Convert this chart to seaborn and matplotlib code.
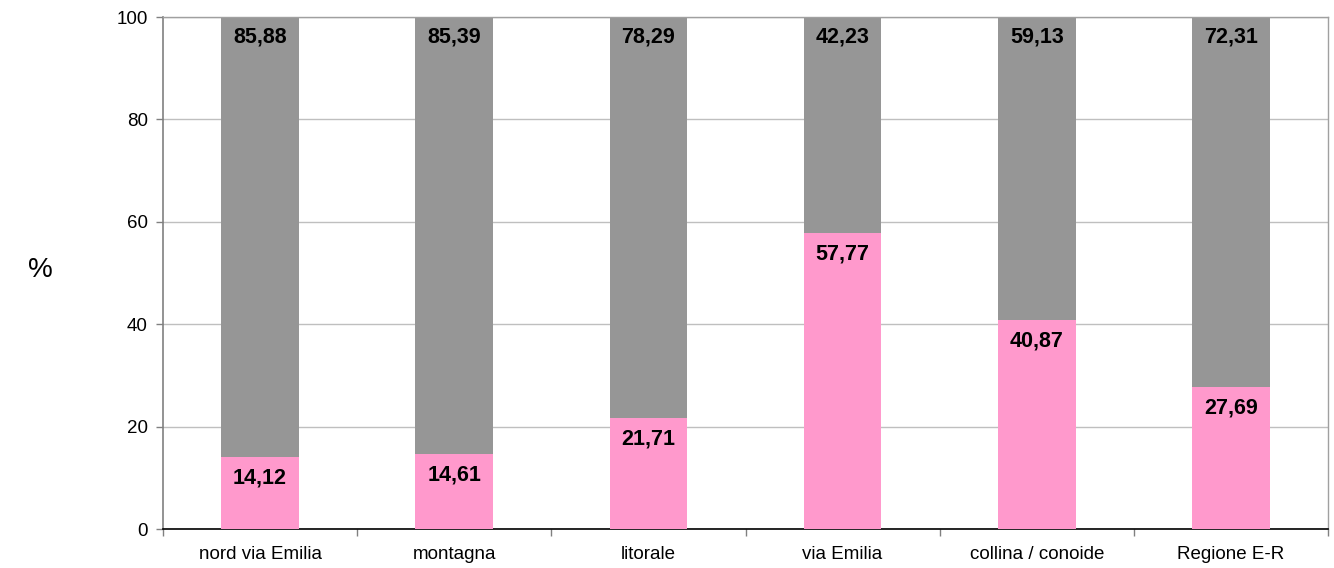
import matplotlib
matplotlib.use("Agg")
import matplotlib.pyplot as plt
import seaborn as sns
import pandas as pd
import numpy as np

categories = ["nord via Emilia", "montagna", "litorale", "via Emilia", "collina / conoide", "Regione E-R"]
pink_values = [14.12, 14.61, 21.71, 57.77, 40.87, 27.69]
gray_values = [85.88, 85.39, 78.29, 42.23, 59.13, 72.31]
y_ticks = [0, 20, 40, 60, 80, 100]

PINK = "#FF99CC"
GRAY = "#969696"

sns.set_theme(style="white")
plt.rcParams["font.family"] = ["Liberation Sans", "DejaVu Sans"]

df = pd.DataFrame({
    "categoria": categories,
    "rosa": pink_values,
    "grigio": gray_values,
})
df["totale"] = df["rosa"] + df["grigio"]

fig = plt.figure(figsize=(13.34, 5.68), dpi=100)
ax = fig.add_axes([163 / 1334, 1 - 529 / 568, (1328 - 163) / 1334, (529 - 17) / 568])

# stacked bars: full-height gray first, pink segment drawn over it
sns.barplot(data=df, x="categoria", y="totale", color=GRAY, width=0.40,
            saturation=1, ax=ax, zorder=2, edgecolor="none")
sns.barplot(data=df, x="categoria", y="rosa", color=PINK, width=0.40,
            saturation=1, ax=ax, zorder=3, edgecolor="none")

ax.set_xlim(-0.5, len(categories) - 0.5)
ax.set_ylim(0, 100)
ax.set_yticks(y_ticks)
ax.set_yticklabels([str(t) for t in y_ticks], fontsize=13.5, color="black")
ax.yaxis.grid(True, color="#BFBFBF", linewidth=1, zorder=0)
ax.set_axisbelow(True)

# category labels centred, tick marks on category boundaries
ax.set_xticks(range(len(categories)))
ax.set_xticklabels(categories, fontsize=13.5, color="black")
ax.tick_params(axis="x", which="major", length=0, pad=12)
ax.set_xticks(np.arange(-0.5, len(categories), 1), minor=True)
ax.tick_params(axis="x", which="minor", length=5, width=1, color="#808080", bottom=True)
ax.tick_params(axis="y", which="major", length=5, width=1, color="#808080", left=True, pad=6)
ax.set_xlabel("")
ax.set_ylabel("")

for side, col, lw in [("left", "#808080", 1.2), ("bottom", "#000000", 1.2),
                      ("top", "#A0A0A0", 1.0), ("right", "#A0A0A0", 1.0)]:
    ax.spines[side].set_visible(True)
    ax.spines[side].set_color(col)
    ax.spines[side].set_linewidth(lw)

# value labels just inside the top of each segment
for i, (p, g) in enumerate(zip(pink_values, gray_values)):
    ax.annotate(f"{p:.2f}".replace(".", ","), xy=(i, p), xytext=(0, -15),
                textcoords="offset points", ha="center", va="center",
                fontsize=15.5, fontweight="bold", color="black", zorder=5)
    ax.annotate(f"{g:.2f}".replace(".", ","), xy=(i, p + g), xytext=(0, -14.5),
                textcoords="offset points", ha="center", va="center",
                fontsize=15.5, fontweight="bold", color="black", zorder=5)

fig.text(40 / 1334, 1 - 270 / 568, "%", fontsize=20, ha="center", va="center", color="black")

fig.savefig("out.png", dpi=100, facecolor="white")
